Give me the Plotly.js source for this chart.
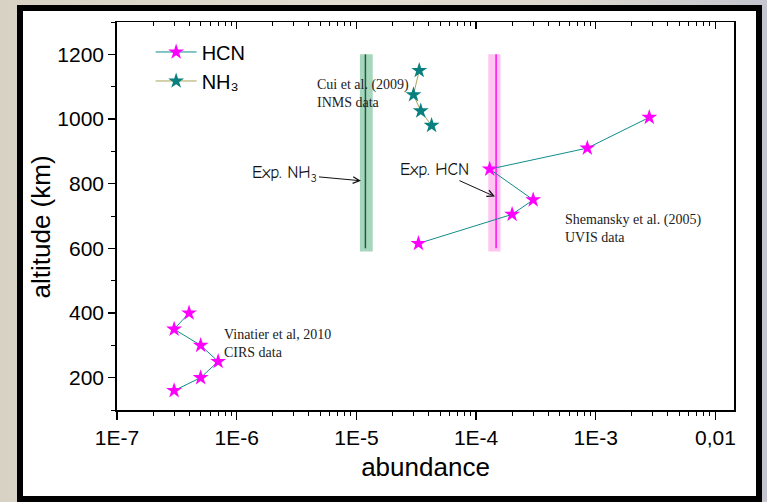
<!DOCTYPE html>
<html>
<head>
<meta charset="utf-8">
<script src="https://cdn.plot.ly/plotly-3.0.1.min.js"></script>
<style>
  html, body { margin: 0; padding: 0; }
  body {
    width: 767px; height: 502px; overflow: hidden; position: relative;
    background: linear-gradient(to right, #d8d2c4 0%, #e2ddd0 45%, #dcd8cf 75%, #c4c5cf 100%);
  }
  #frame {
    position: absolute; left: 17px; top: 5px; width: 745px; height: 497px;
    box-sizing: border-box; border: 6px solid #000; background: #fff;
  }
  #chart { position: absolute; left: 0; top: 0; width: 767px; height: 502px; }
</style>
</head>
<body>
<div id="frame"></div>
<div id="chart"></div>
<script>
// HCN profiles: CIRS (lower atmosphere) and UVIS (upper atmosphere), split by a gap
const hcnAbundance = [3e-7, 5e-7, 7e-7, 5e-7, 3e-7, 4e-7, null, 3.3e-5, 2e-4, 3e-4, 1.3e-4, 8.5e-4, 2.8e-3];
const hcnAltitude  = [160, 200, 250, 300, 350, 400, null, 615, 705, 750, 845, 910, 1005];

// NH3 profile from INMS
const nh3Abundance = [3.35e-5, 3e-5, 3.45e-5, 4.25e-5];
const nh3Altitude  = [1150, 1075, 1025, 980];

// Experimental results: [lower bound, value, upper bound]
const expNH3 = [1.07e-5, 1.19e-5, 1.37e-5];
const expHCN = [1.265e-4, 1.47e-4, 1.6e-4];
const expAltitude = [600, 1200];
const expBandAltitude = [590, 1200];

// Axis ticks
const xTickVals = [1e-7, 1e-6, 1e-5, 1e-4, 1e-3, 1e-2];
const xTickText = ['1E-7', '1E-6', '1E-5', '1E-4', '1E-3', '0,01'];
const yTickVals = [200, 400, 600, 800, 1000, 1200];

const xMinor = [];
xTickVals.slice(0, -1).forEach(d => { for (let k = 2; k <= 9; k++) xMinor.push(d * k); });

const xRange = [-7, -1.845];
const yRange = [100, 1300];

function band(r, color) {
  return {
    x: [r[0], r[2], r[2], r[0], r[0]],
    y: [expBandAltitude[0], expBandAltitude[0], expBandAltitude[1], expBandAltitude[1], expBandAltitude[0]],
    mode: 'lines', fill: 'toself', fillcolor: color, line: {width: 0},
    showlegend: false, hoverinfo: 'skip', xaxis: 'x', yaxis: 'y'
  };
}
function centre(r, color) {
  return {
    x: [r[1], r[1]], y: expAltitude, mode: 'lines',
    line: {color: color, width: 1.5}, showlegend: false, hoverinfo: 'skip',
    xaxis: 'x', yaxis: 'y'
  };
}

const traces = [
  {
    name: 'HCN', x: hcnAbundance, y: hcnAltitude, mode: 'lines+markers',
    connectgaps: false, xaxis: 'x2', yaxis: 'y',
    line: {color: '#108c8c', width: 1},
    marker: {symbol: 'star', size: 12, color: '#ff00ff', line: {width: 0}}
  },
  {
    name: 'NH₃', x: nh3Abundance, y: nh3Altitude, mode: 'lines+markers',
    xaxis: 'x2', yaxis: 'y',
    line: {color: '#a9a45a', width: 1},
    marker: {symbol: 'star', size: 12, color: '#0a7f7f', line: {width: 0}}
  },
  band(expNH3, '#a6d7bd'),
  centre(expNH3, '#1d5c3e'),
  band(expHCN, '#ffc4f1'),
  centre(expHCN, '#ff10ee')
];

const serif = {family: 'Liberation Serif, Times New Roman, serif', size: 14, color: '#222'};
const hand = {family: 'Comic Sans MS, Comic Neue, Noto Sans, sans-serif', size: 17, color: '#111'};

const layout = {
  width: 767, height: 502,
  margin: {l: 117, r: 33, t: 22, b: 92, autoexpand: false},
  paper_bgcolor: 'rgba(0,0,0,0)',
  plot_bgcolor: '#fff',
  font: {family: 'Liberation Sans, Arial, sans-serif', color: '#000'},
  showlegend: true,
  legend: {
    x: 0.0545, y: 0.973, xanchor: 'left', yanchor: 'top',
    bgcolor: 'rgba(0,0,0,0)', font: {size: 20},
    itemwidth: 41, tracegroupgap: 0
  },
  xaxis: {
    type: 'log', range: xRange, showgrid: false, zeroline: false,
    showline: true, linecolor: '#000', linewidth: 1.5, mirror: true,
    ticks: 'outside', ticklen: 8, tickwidth: 1.2, tickcolor: '#000',
    tickvals: xTickVals, ticktext: xTickText, tickfont: {size: 21},
    minor: {tickvals: xMinor, ticks: 'outside', ticklen: 4, tickwidth: 1, tickcolor: '#000'},
    title: {text: 'abundance', font: {size: 26}, standoff: 10},
    automargin: false
  },
  xaxis2: {
    type: 'log', range: xRange, overlaying: 'x', side: 'top', anchor: 'y',
    showgrid: false, zeroline: false, showline: false,
    ticks: 'inside', ticklen: 7, tickwidth: 1.2, tickcolor: '#000',
    tickvals: xTickVals, showticklabels: false,
    minor: {tickvals: xMinor, ticks: 'inside', ticklen: 4, tickwidth: 1, tickcolor: '#000'},
    automargin: false
  },
  yaxis: {
    range: yRange, showgrid: false, zeroline: false,
    showline: true, linecolor: '#000', linewidth: 1.8, mirror: true,
    ticks: 'outside', ticklen: 7, tickwidth: 1.2, tickcolor: '#000',
    tickvals: yTickVals, tickfont: {size: 21},
    minor: {dtick: 100, tick0: 100, ticks: 'outside', ticklen: 4, tickwidth: 1, tickcolor: '#000'},
    automargin: false
  },
  annotations: [
    // y-axis title
    {xref: 'paper', yref: 'paper', x: -0.1224, y: 0.4716, text: 'altitude (km)', textangle: -90,
     showarrow: false, xanchor: 'center', yanchor: 'middle', font: {size: 26}},
    {xref: 'x', yref: 'y', x: -5.346, y: 1078, text: 'Cui et al. (2009)<br>INMS data',
     showarrow: false, xanchor: 'left', yanchor: 'middle', align: 'left', font: serif},
    {xref: 'x', yref: 'y', x: -3.274, y: 661, text: 'Shemansky et al. (2005)<br>UVIS data',
     showarrow: false, xanchor: 'left', yanchor: 'middle', align: 'left', font: serif},
    {xref: 'x', yref: 'y', x: -6.123, y: 306, text: 'Vinatier et al, 2010<br>CIRS data',
     showarrow: false, xanchor: 'left', yanchor: 'middle', align: 'left', font: serif},
    // experiment labels pointing at their bands
    {xref: 'x', yref: 'y', x: -4.962, y: 809, ax: -76, ay: -7, text: 'Exp. NH<sub>3</sub>',
     showarrow: true, arrowhead: 5, arrowsize: 1.3, arrowwidth: 1, arrowcolor: '#111', font: hand},
    {xref: 'x', yref: 'y', x: -3.842, y: 760, ax: -60, ay: -27, text: 'Exp. HCN',
     showarrow: true, arrowhead: 5, arrowsize: 1.3, arrowwidth: 1, arrowcolor: '#111', font: hand}
  ]
};

Plotly.newPlot('chart', traces, layout, {staticPlot: true, displayModeBar: false});
</script>
</body>
</html>
